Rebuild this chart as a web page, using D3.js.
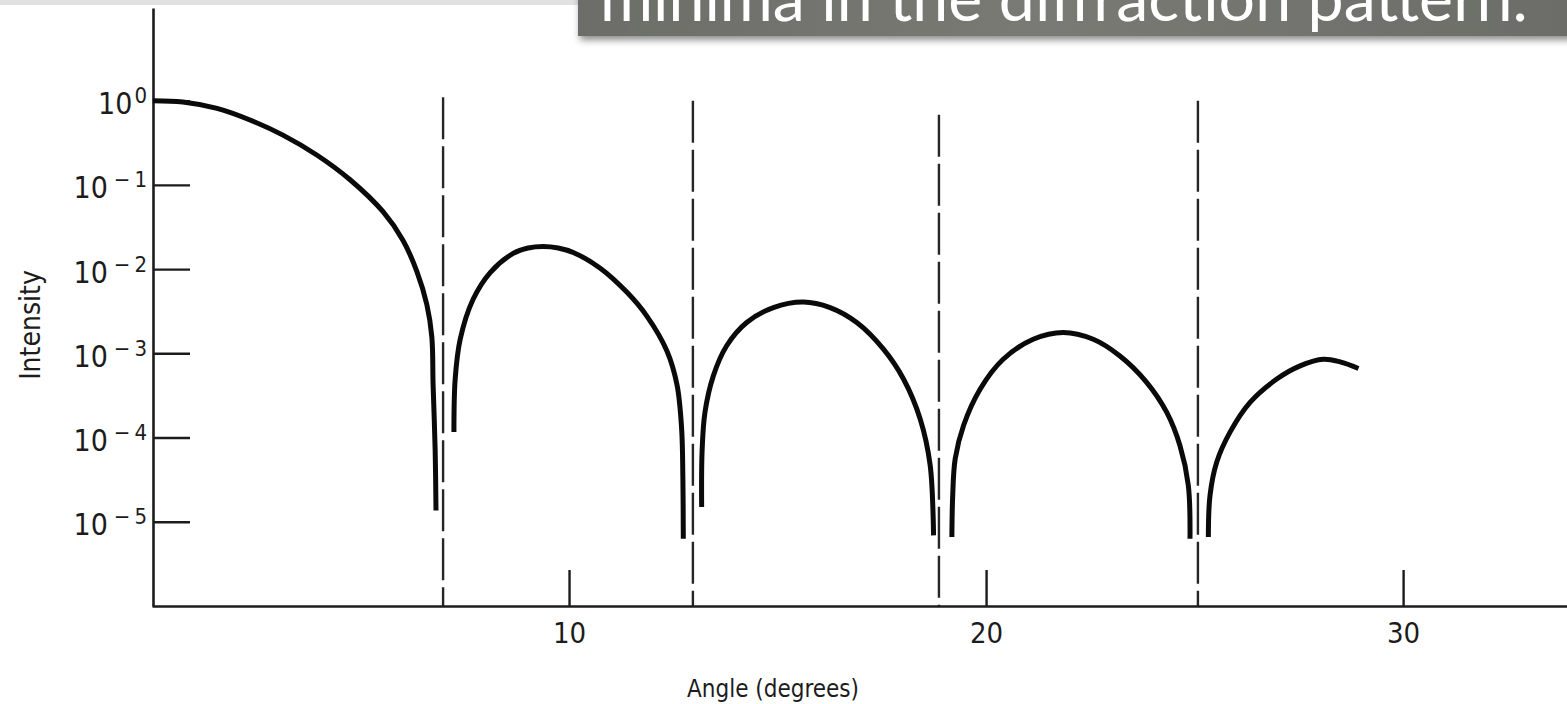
<!DOCTYPE html>
<html>
<head>
<meta charset="utf-8">
<script src="https://cdn.jsdelivr.net/npm/d3@7"></script>
<style>
  html, body { margin: 0; padding: 0; background: #ffffff; }
  svg { display: block; }
</style>
</head>
<body>
<svg id="chart" width="1567" height="704"></svg>
<script>
// Diffraction intensity, sampled along each lobe (angle in degrees, relative intensity)
const lobe0Angle = [0.02, 0.74, 1.56, 2.35, 3.14, 3.96, 4.75, 5.54, 6.02, 6.35, 6.59, 6.71, 6.74, 6.79, 6.81];
const lobe0Intensity = [1.0, 0.965, 0.81, 0.59, 0.39, 0.225, 0.115, 0.048, 0.0219, 0.0094, 0.0038, 1.56e-3, 4.3e-4, 7.0e-5, 1.36e-5];

const lobe1Angle = [7.24, 7.27, 7.39, 7.70, 8.11, 8.66, 9.02, 9.38, 9.74, 10.10, 10.74, 11.39, 11.87, 12.35, 12.59, 12.70, 12.73, 12.74];
const lobe1Intensity = [1.16e-4, 4.95e-4, 1.47e-3, 4.38e-3, 9.1e-3, 0.01534, 0.01782, 0.01856, 0.01782, 0.01577, 0.01033, 5.3e-3, 2.75e-3, 1.06e-3, 4.2e-4, 1.27e-4, 3.25e-5, 6.3e-6];

const lobe2Angle = [13.18, 13.19, 13.26, 13.46, 13.78, 14.26, 14.90, 15.62, 16.26, 16.90, 17.54, 18.02, 18.42, 18.66, 18.74];
const lobe2Intensity = [1.5e-5, 6.8e-5, 2.0e-4, 5.4e-4, 1.23e-3, 2.32e-3, 3.49e-3, 4.07e-3, 3.49e-3, 2.32e-3, 1.12e-3, 4.95e-4, 1.66e-4, 4.67e-5, 6.9e-6];

const lobe3Angle = [19.18, 19.20, 19.26, 19.46, 19.86, 20.41, 21.13, 21.85, 22.57, 23.21, 23.85, 24.33, 24.65, 24.85, 24.89];
const lobe3Intensity = [6.6e-6, 2.06e-5, 5.6e-5, 1.39e-4, 3.77e-4, 8.5e-4, 1.47e-3, 1.77e-3, 1.47e-3, 9.3e-4, 4.53e-4, 2.0e-4, 8.0e-5, 2.7e-5, 6.3e-6];

const lobe4Angle = [25.33, 25.37, 25.53, 25.85, 26.33, 26.97, 27.53, 28.09, 28.49, 28.93];
const lobe4Intensity = [6.6e-6, 2.06e-5, 5.1e-5, 1.16e-4, 2.62e-4, 4.95e-4, 7.1e-4, 8.5e-4, 7.9e-4, 6.6e-4];

// Positions of the minima (dashed guides) and where each guide starts at the top
const minimaAngles = [6.98, 12.97, 18.87, 25.08];
const minimaTop = [1.1, 1.0, 0.68, 1.0];

// Axis ticks
const xTickValues = [10, 20, 30];
const yTickExponents = [0, -1, -2, -3, -4, -5];

const xLabel = "Angle (degrees)";
const yLabel = "Intensity";
const headerText = "minima in the diffraction pattern.";

// ---------------------------------------------------------------
const svg = d3.select("#chart");
const W = 1567, H = 704;
const plotLeft = 152, plotBottom = 606, plotTop = 8;

const x = d3.scaleLinear().domain([0, 33.93]).range([plotLeft, W]);
const y = d3.scaleLog().domain([1e-6, Math.pow(10, 1.1)]).range([plotBottom, plotTop]);

const axisFont = "'DejaVu Sans Condensed', 'DejaVu Sans', sans-serif";
const ink = "#1c1c1c";

// top strip and header band
svg.append("rect").attr("x", 0).attr("y", 0).attr("width", 578).attr("height", 5).attr("fill", "#e1e1e1");

const defs = svg.append("defs");
const grad = defs.append("linearGradient").attr("id", "bandFill").attr("x1", "0").attr("x2", "1").attr("y1", "0").attr("y2", "0");
grad.append("stop").attr("offset", "0%").attr("stop-color", "#6c6d68");
grad.append("stop").attr("offset", "45%").attr("stop-color", "#797a74");
grad.append("stop").attr("offset", "100%").attr("stop-color", "#6b6c67");
const shadow = defs.append("filter").attr("id", "bandShadow").attr("x", "-5%").attr("y", "-50%").attr("width", "110%").attr("height", "200%");
shadow.append("feDropShadow").attr("dx", 2).attr("dy", 4).attr("stdDeviation", 3.5).attr("flood-color", "#000").attr("flood-opacity", 0.45);

svg.append("rect")
  .attr("x", 578).attr("y", -20).attr("width", 1020).attr("height", 56)
  .attr("fill", "url(#bandFill)")
  .attr("filter", "url(#bandShadow)");

const header = svg.append("text")
  .attr("x", 600).attr("y", 21)
  .attr("fill", "#ffffff")
  .attr("font-family", "Lato, 'Open Sans', sans-serif")
  .attr("font-size", 48)
  .text(headerText);
// fit the header to its band width
const hw = header.node().getComputedTextLength();
header.attr("font-size", 48 * 928 / hw);

// dashed guides at the minima
svg.append("g").selectAll("line")
  .data(minimaAngles.map((a, i) => ({ a, t: minimaTop[i] })))
  .join("line")
  .attr("x1", d => x(d.a)).attr("x2", d => x(d.a))
  .attr("y1", d => y(d.t)).attr("y2", plotBottom)
  .attr("stroke", "#262626")
  .attr("stroke-width", 2.4)
  .attr("stroke-dasharray", "42,7");

// y axis: inner ticks pointing right, labels on the left
const yAxis = d3.axisLeft(y)
  .tickValues(yTickExponents.map(e => Math.pow(10, e)))
  .tickSizeInner(-37).tickSizeOuter(0).tickPadding(6)
  .tickFormat(() => "");
const gy = svg.append("g").attr("transform", `translate(${plotLeft + 1},0)`).call(yAxis);
gy.select(".domain").attr("stroke", ink).attr("stroke-width", 2.6);
gy.selectAll(".tick line").attr("stroke", ink).attr("stroke-width", 2.4);
gy.selectAll(".tick text")
  .attr("font-family", axisFont).attr("font-size", 30).attr("fill", ink)
  .attr("dy", null).attr("y", 13)
  .each(function (d) {
    const t = d3.select(this);
    const e = Math.round(Math.log10(d));
    t.append("tspan").text("10");
    t.append("tspan")
      .attr("dx", e < 0 ? 6 : 2).attr("dy", -11)
      .attr("font-size", 22)
      .text(e < 0 ? "\u2212\u2009" + Math.abs(e) : String(e));
  });

// x axis: inner ticks pointing up
const xAxis = d3.axisBottom(x)
  .tickValues(xTickValues)
  .tickSizeInner(-36).tickSizeOuter(0).tickPadding(16)
  .tickFormat(d3.format("d"));
const gx = svg.append("g").attr("transform", `translate(0,${plotBottom})`).call(xAxis);
gx.select(".domain").attr("stroke", ink).attr("stroke-width", 2.6);
gx.selectAll(".tick line").attr("stroke", ink).attr("stroke-width", 2.4);
gx.selectAll(".tick text").attr("font-family", axisFont).attr("font-size", 29).attr("fill", ink);

// intensity curve, one path per lobe
const lobes = [
  [lobe0Angle, lobe0Intensity],
  [lobe1Angle, lobe1Intensity],
  [lobe2Angle, lobe2Intensity],
  [lobe3Angle, lobe3Intensity],
  [lobe4Angle, lobe4Intensity]
].map(([a, v]) => a.map((ang, i) => ({ a: ang, v: v[i] })));

const line = d3.line()
  .x(d => x(d.a))
  .y(d => y(d.v))
  .curve(d3.curveCatmullRom.alpha(0.5));

svg.append("g").selectAll("path")
  .data(lobes)
  .join("path")
  .attr("d", line)
  .attr("fill", "none")
  .attr("stroke", "#0a0a0a")
  .attr("stroke-width", 5)
  .attr("stroke-linecap", "butt")
  .attr("stroke-linejoin", "round");

// axis titles
svg.append("text")
  .attr("x", 773).attr("y", 697)
  .attr("text-anchor", "middle")
  .attr("font-family", axisFont).attr("font-size", 24).attr("fill", ink)
  .text(xLabel);

svg.append("text")
  .attr("transform", "translate(40,325) rotate(-90)")
  .attr("text-anchor", "middle")
  .attr("font-family", axisFont).attr("font-size", 28).attr("fill", ink)
  .text(yLabel);
</script>
</body>
</html>
